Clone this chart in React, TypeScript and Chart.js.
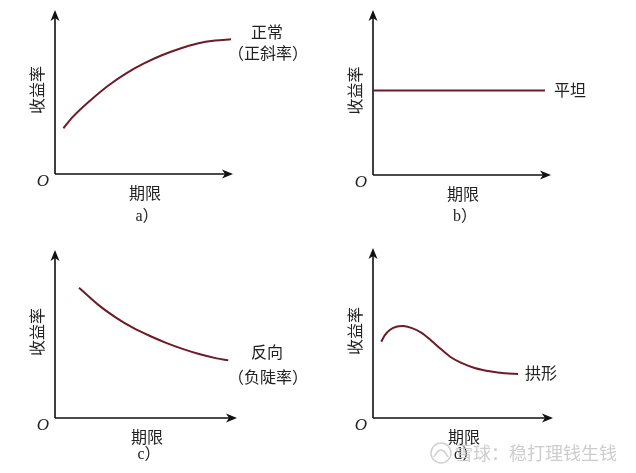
import React, { useEffect, useRef } from "react";
import { Chart, registerables } from "chart.js";

Chart.register(...registerables);

// ---- data (0..100 units on each panel's own axes) ----
const normalX = [4.7, 10, 20, 30, 40, 50, 60, 70, 80, 90, 98.9];
const normalY = [27.9, 34.8, 45.0, 54.0, 61.4, 67.4, 72.4, 76.4, 79.6, 81.4, 82.1];

const flatX = [0, 96.6];
const flatY = [51.2, 51.2];

const invertedX = [13.2, 24.7, 33.9, 43.0, 52.2, 61.4, 70.5, 79.7, 88.8, 95.2];
const invertedY = [77.6, 66.6, 59.5, 53.6, 48.8, 44.6, 41.0, 37.9, 35.5, 34.3];

const humpedX = [4.6, 6.5, 9.3, 12.9, 16.7, 21.3, 26.8, 32.4, 37.9, 43.5, 49.1, 56.5, 65.7, 73.2, 80.6];
const humpedY = [44.9, 48.6, 51.8, 53.7, 54.1, 53.0, 50.2, 45.5, 40.4, 35.6, 32.4, 29.4, 27.3, 26.3, 25.9];

const yAxisTitle = "收益率";
const xAxisTitle = "期限";
const originLabel = "O";
const panelCaptions = ["a）", "b）", "c）", "d）"];
const curveLabels: string[][] = [["正常", "（正斜率）"], ["平坦"], ["反向", "（负陡率）"], ["拱形"]];
const watermarkText = "雪球：稳打理钱生钱";

const LINE_COLOR = "#6d1b29";
const CJK = '"Noto Sans CJK SC", sans-serif';

type PanelDef = {
  xs: number[];
  ys: number[];
  left: number;
  top: number;
  width: number;
  height: number;
  pad: { left: number; right: number; top: number; bottom: number };
  labelPos: { x: number; y: number }[];
  captionIdx: number;
  watermark?: boolean;
};

const panels: PanelDef[] = [
  {
    xs: normalX, ys: normalY, left: 0, top: 0, width: 318, height: 235,
    pad: { left: 55, right: 85, top: 10, bottom: 61 },
    labelPos: [{ x: 267, y: 32 }, { x: 268, y: 53 }], captionIdx: 0,
  },
  {
    xs: flatX, ys: flatY, left: 318, top: 0, width: 318, height: 235,
    pad: { left: 55, right: 85, top: 10, bottom: 60 },
    labelPos: [{ x: 252, y: 90 }], captionIdx: 1,
  },
  {
    xs: invertedX, ys: invertedY, left: 0, top: 235, width: 318, height: 238,
    pad: { left: 55, right: 81, top: 15, bottom: 55 },
    labelPos: [{ x: 267, y: 117 }, { x: 268, y: 142 }], captionIdx: 2,
  },
  {
    xs: humpedX, ys: humpedY, left: 318, top: 235, width: 318, height: 238,
    pad: { left: 55, right: 83, top: 13, bottom: 55 },
    labelPos: [{ x: 223, y: 138 }], captionIdx: 3, watermark: true,
  },
];

function drawArrow(ctx: CanvasRenderingContext2D, x: number, y: number, dir: "up" | "right") {
  ctx.save();
  ctx.translate(x, y);
  if (dir === "right") ctx.rotate(Math.PI / 2);
  ctx.beginPath();
  ctx.moveTo(0, 0);
  ctx.lineTo(-4.5, 11);
  ctx.lineTo(0, 8);
  ctx.lineTo(4.5, 11);
  ctx.closePath();
  ctx.fillStyle = "#111";
  ctx.fill();
  ctx.restore();
}

function PanelChart({ def, index }: { def: PanelDef; index: number }) {
  const ref = useRef<HTMLCanvasElement | null>(null);
  useEffect(() => {
    if (!ref.current) return;
    const labels = curveLabels[index];
    const decor = {
      id: "decor",
      beforeDatasetsDraw(chart: any) {
        const { ctx, chartArea } = chart;
        const { left, right, top, bottom } = chartArea;
        ctx.save();
        ctx.strokeStyle = "#111";
        ctx.lineWidth = 1.6;
        ctx.beginPath();
        ctx.moveTo(left, bottom);
        ctx.lineTo(left, top + 6);
        ctx.moveTo(left, bottom);
        ctx.lineTo(right - 6, bottom);
        ctx.stroke();
        drawArrow(ctx, left, top, "up");
        drawArrow(ctx, right, bottom, "right");
        ctx.restore();
      },
      afterDraw(chart: any) {
        const { ctx, chartArea } = chart;
        const { left, right, top, bottom } = chartArea;
        ctx.save();
        ctx.fillStyle = "#222";
        ctx.textAlign = "center";
        ctx.textBaseline = "middle";
        ctx.save();
        ctx.translate(left - 18, (top + bottom) / 2 - 2);
        ctx.rotate(-Math.PI / 2);
        ctx.font = `16px ${CJK}`;
        ctx.fillText(yAxisTitle, 0, 0);
        ctx.restore();
        ctx.font = 'italic 17px "Liberation Serif", serif';
        ctx.fillText(originLabel, left - 12, bottom + 8);
        ctx.font = `16px ${CJK}`;
        ctx.fillText(xAxisTitle, (left + right) / 2 + 1, bottom + 19);
        ctx.font = `16px "Liberation Serif", ${CJK}`;
        ctx.fillText(panelCaptions[def.captionIdx], (left + right) / 2 + 3, def.height - 18);
        ctx.font = `16px ${CJK}`;
        labels.forEach((t, i) => {
          const p = def.labelPos[i];
          ctx.fillText(t, p.x, p.y);
        });
        if (def.watermark) {
          ctx.globalAlpha = 0.85;
          ctx.strokeStyle = "#c8c8c8";
          ctx.lineWidth = 1.5;
          ctx.beginPath();
          ctx.arc(123, 218, 10, 0, Math.PI * 2);
          ctx.stroke();
          ctx.beginPath();
          ctx.moveTo(116, 222);
          ctx.quadraticCurveTo(123, 208, 130, 222);
          ctx.stroke();
          ctx.fillStyle = "#c4c4c4";
          ctx.font = `18px ${CJK}`;
          ctx.textAlign = "left";
          ctx.fillText(watermarkText, 137, 218);
        }
        ctx.restore();
      },
    };
    const chart = new Chart(ref.current, {
      type: "line",
      data: {
        datasets: [
          {
            data: def.xs.map((x, i) => ({ x, y: def.ys[i] })),
            borderColor: LINE_COLOR,
            borderWidth: 2,
            pointRadius: 0,
            cubicInterpolationMode: "monotone",
            fill: false,
          },
        ],
      },
      options: {
        animation: false,
        responsive: false,
        layout: { padding: def.pad },
        plugins: { legend: { display: false }, tooltip: { enabled: false } },
        scales: {
          x: { type: "linear", min: 0, max: 100, display: false },
          y: { type: "linear", min: 0, max: 100, display: false },
        },
      },
      plugins: [decor],
    } as any);
    return () => chart.destroy();
  }, [def, index]);
  return (
    <canvas
      ref={ref}
      width={def.width}
      height={def.height}
      style={{ position: "absolute", left: def.left, top: def.top, width: def.width, height: def.height }}
    />
  );
}

export default function App() {
  useEffect(() => {
    document.body.style.margin = "0";
  }, []);
  return (
    <div style={{ position: "relative", width: 636, height: 473, background: "#fff", overflow: "hidden" }}>
      {panels.map((p, i) => (
        <PanelChart key={i} def={p} index={i} />
      ))}
    </div>
  );
}
